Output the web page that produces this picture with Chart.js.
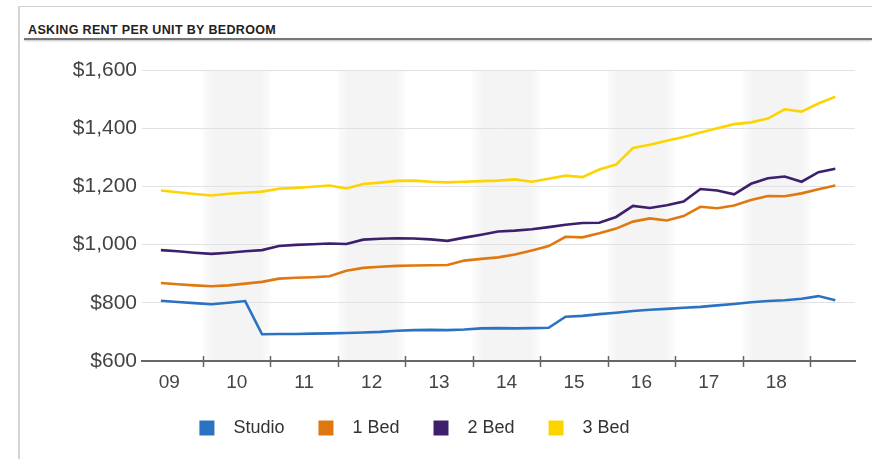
<!DOCTYPE html>
<html>
<head>
<meta charset="utf-8">
<script src="https://cdn.jsdelivr.net/npm/chart.js@4.4.0/dist/chart.umd.min.js"></script>
<style>
  html, body { margin: 0; padding: 0; background: #fff; }
  #wrap { position: relative; width: 872px; height: 459px; overflow: hidden; font-family: "Liberation Sans", Arial, sans-serif; }
  .frame-top { position: absolute; left: 18px; top: 6px; right: 0; border-top: 1px solid #cfcfcf; }
  .frame-left { position: absolute; left: 18px; top: 6px; bottom: 0; border-left: 2px solid #d4d4d4; }
  #title { position: absolute; left: 28px; top: 23px; line-height: 14px; font-weight: bold; font-size: 12.5px; letter-spacing: 0.35px; color: #222; }
  .rule { position: absolute; left: 24px; right: 0; top: 38px; height: 2px; background: #777; box-shadow: 0 1px 2px rgba(0,0,0,0.25); }
  #box { position: absolute; left: 0; top: 0; width: 872px; height: 459px; }
</style>
</head>
<body>
<div id="wrap">
  <div class="frame-top"></div>
  <div class="frame-left"></div>
  <div id="title">ASKING RENT PER UNIT BY BEDROOM</div>
  <div class="rule"></div>
  <div id="box"><canvas id="chart"></canvas></div>
</div>
<script>
// quarterly asking rent, 2009 Q2 - 2019 Q2
const quarters = [
  "2009 Q2", "2009 Q3", "2009 Q4", "2010 Q1", "2010 Q2", "2010 Q3", "2010 Q4",
  "2011 Q1", "2011 Q2", "2011 Q3", "2011 Q4", "2012 Q1", "2012 Q2", "2012 Q3", "2012 Q4",
  "2013 Q1", "2013 Q2", "2013 Q3", "2013 Q4", "2014 Q1", "2014 Q2", "2014 Q3", "2014 Q4",
  "2015 Q1", "2015 Q2", "2015 Q3", "2015 Q4", "2016 Q1", "2016 Q2", "2016 Q3", "2016 Q4",
  "2017 Q1", "2017 Q2", "2017 Q3", "2017 Q4", "2018 Q1", "2018 Q2", "2018 Q3", "2018 Q4",
  "2019 Q1", "2019 Q2"
];

const studio = [807, 803, 799, 795, 800, 806, 692, 693, 693, 694, 695, 696, 698, 700, 704,
  706, 707, 706, 708, 712, 713, 712, 713, 714, 752, 755, 761, 766, 772, 776, 779,
  783, 786, 791, 796, 802, 806, 809, 814, 823, 809];

const oneBed = [868, 864, 860, 857, 860, 866, 872, 883, 886, 888, 891, 910, 920, 924, 927,
  928, 929, 930, 945, 951, 956, 966, 980, 995, 1027, 1025, 1039, 1055, 1079, 1090, 1083,
  1098, 1130, 1125, 1134, 1153, 1167, 1166, 1176, 1190, 1203];

const twoBed = [981, 977, 972, 968, 972, 977, 981, 995, 999, 1001, 1004, 1002, 1017, 1020, 1022,
  1021, 1018, 1013, 1024, 1034, 1045, 1048, 1053, 1060, 1068, 1074, 1075, 1095, 1133, 1126, 1135,
  1148, 1191, 1186, 1173, 1209, 1228, 1234, 1216, 1249, 1261];

const threeBed = [1186, 1180, 1174, 1169, 1175, 1178, 1182, 1192, 1195, 1199, 1203, 1193, 1208, 1213, 1219,
  1220, 1216, 1214, 1216, 1218, 1220, 1224, 1216, 1226, 1237, 1232, 1258, 1275, 1332, 1343, 1357,
  1370, 1385, 1400, 1414, 1420, 1433, 1465, 1457, 1485, 1508];

const firstYear = 2009;
const yearLabels = ["09", "10", "11", "12", "13", "14", "15", "16", "17", "18"];
const yTicks = [600, 800, 1000, 1200, 1400, 1600];

const seriesNames = ["Studio", "1 Bed", "2 Bed", "3 Bed"];
const seriesColors = ["#2b72c2", "#e0780f", "#3d1f6e", "#fdd400"];

// mid-point of the quarter as a decimal year
function quarterPos(q) {
  const parts = q.split(" Q");
  return Number(parts[0]) + (Number(parts[1]) - 1) * 0.25 + 0.125;
}

function toPoints(values) {
  return values.map((v, i) => ({x: quarterPos(quarters[i]), y: v}));
}

// grey band behind every other year
const yearBands = {
  id: "yearBands",
  beforeDraw(chart) {
    const {ctx, chartArea, scales} = chart;
    ctx.save();
    yearLabels.forEach((lab, i) => {
      if (i % 2 === 0) return;
      const x0 = scales.x.getPixelForValue(firstYear + i);
      const x1 = scales.x.getPixelForValue(firstYear + i + 1);
      const g = ctx.createLinearGradient(x0, 0, x1, 0);
      g.addColorStop(0, "rgba(244,244,244,0.3)");
      g.addColorStop(0.15, "rgba(244,244,244,1)");
      g.addColorStop(0.85, "rgba(244,244,244,1)");
      g.addColorStop(1, "rgba(244,244,244,0.3)");
      ctx.fillStyle = g;
      ctx.fillRect(x0, chartArea.top, x1 - x0, chartArea.bottom - chartArea.top);
    });
    ctx.restore();
  }
};

// tick marks crossing the x axis at year boundaries
const yearTicks = {
  id: "yearTicks",
  afterDatasetsDraw(chart) {
    const {ctx, chartArea, scales} = chart;
    ctx.save();
    ctx.strokeStyle = "#666";
    ctx.lineWidth = 1.5;
    for (let i = 1; i <= yearLabels.length; i++) {
      const x = Math.round(scales.x.getPixelForValue(firstYear + i)) + 0.5;
      ctx.beginPath();
      ctx.moveTo(x, chartArea.bottom - 5);
      ctx.lineTo(x, chartArea.bottom + 6);
      ctx.stroke();
    }
    ctx.restore();
  }
};

// nudge the legend a little left of centre
const legendShift = {
  id: "legendShift",
  afterLayout(chart) {
    chart.legend.left -= 8;
    chart.legend.right -= 8;
  }
};

const ctx = document.getElementById("chart");

new Chart(ctx, {
  type: "line",
  data: {
    datasets: [studio, oneBed, twoBed, threeBed].map((vals, i) => ({
      label: seriesNames[i],
      data: toPoints(vals),
      borderColor: seriesColors[i],
      backgroundColor: seriesColors[i],
      borderWidth: 2.6,
      pointRadius: 0,
      tension: 0,
    })),
  },
  options: {
    responsive: true,
    maintainAspectRatio: false,
    animation: false,
    layout: {
      padding: {left: 0, right: 17, top: 70, bottom: 12},
    },
    plugins: {
      tooltip: {enabled: false},
      legend: {
        position: "bottom",
        labels: {
          boxWidth: 15,
          boxHeight: 15,
          padding: 24,
          color: "#333",
          font: {family: "Liberation Sans", size: 18},
          generateLabels(chart) {
            const items = Chart.defaults.plugins.legend.labels.generateLabels(chart);
            return items.map((it) => Object.assign(it, {text: "  " + it.text + "  ", lineWidth: 0}));
          },
        },
      },
    },
    scales: {
      x: {
        type: "linear",
        min: 2009.095,
        max: 2019.667,
        afterBuildTicks(scale) {
          scale.ticks = yearLabels.map((lab, i) => ({value: firstYear + i + 0.5}));
        },
        afterFit(scale) {
          scale.height = 34;
        },
        grid: {drawOnChartArea: false, drawTicks: false},
        border: {color: "#666", width: 2},
        ticks: {
          autoSkip: false,
          maxRotation: 0,
          padding: 10,
          color: "#444",
          font: {family: "Liberation Sans", size: 19},
          callback: (v, i) => yearLabels[i],
        },
      },
      y: {
        min: 600,
        max: 1600,
        afterBuildTicks(scale) {
          scale.ticks = yTicks.map((v) => ({value: v}));
        },
        afterFit(scale) {
          scale.width = 142;
        },
        grid: {color: "#e2e2e2", lineWidth: 1, drawTicks: false},
        border: {display: false},
        ticks: {
          padding: 5,
          color: "#444",
          font: {family: "Liberation Sans", size: 21},
          callback: (v) => "$" + v.toLocaleString("en-US"),
        },
      },
    },
  },
  plugins: [yearBands, yearTicks, legendShift],
});
</script>
</body>
</html>
